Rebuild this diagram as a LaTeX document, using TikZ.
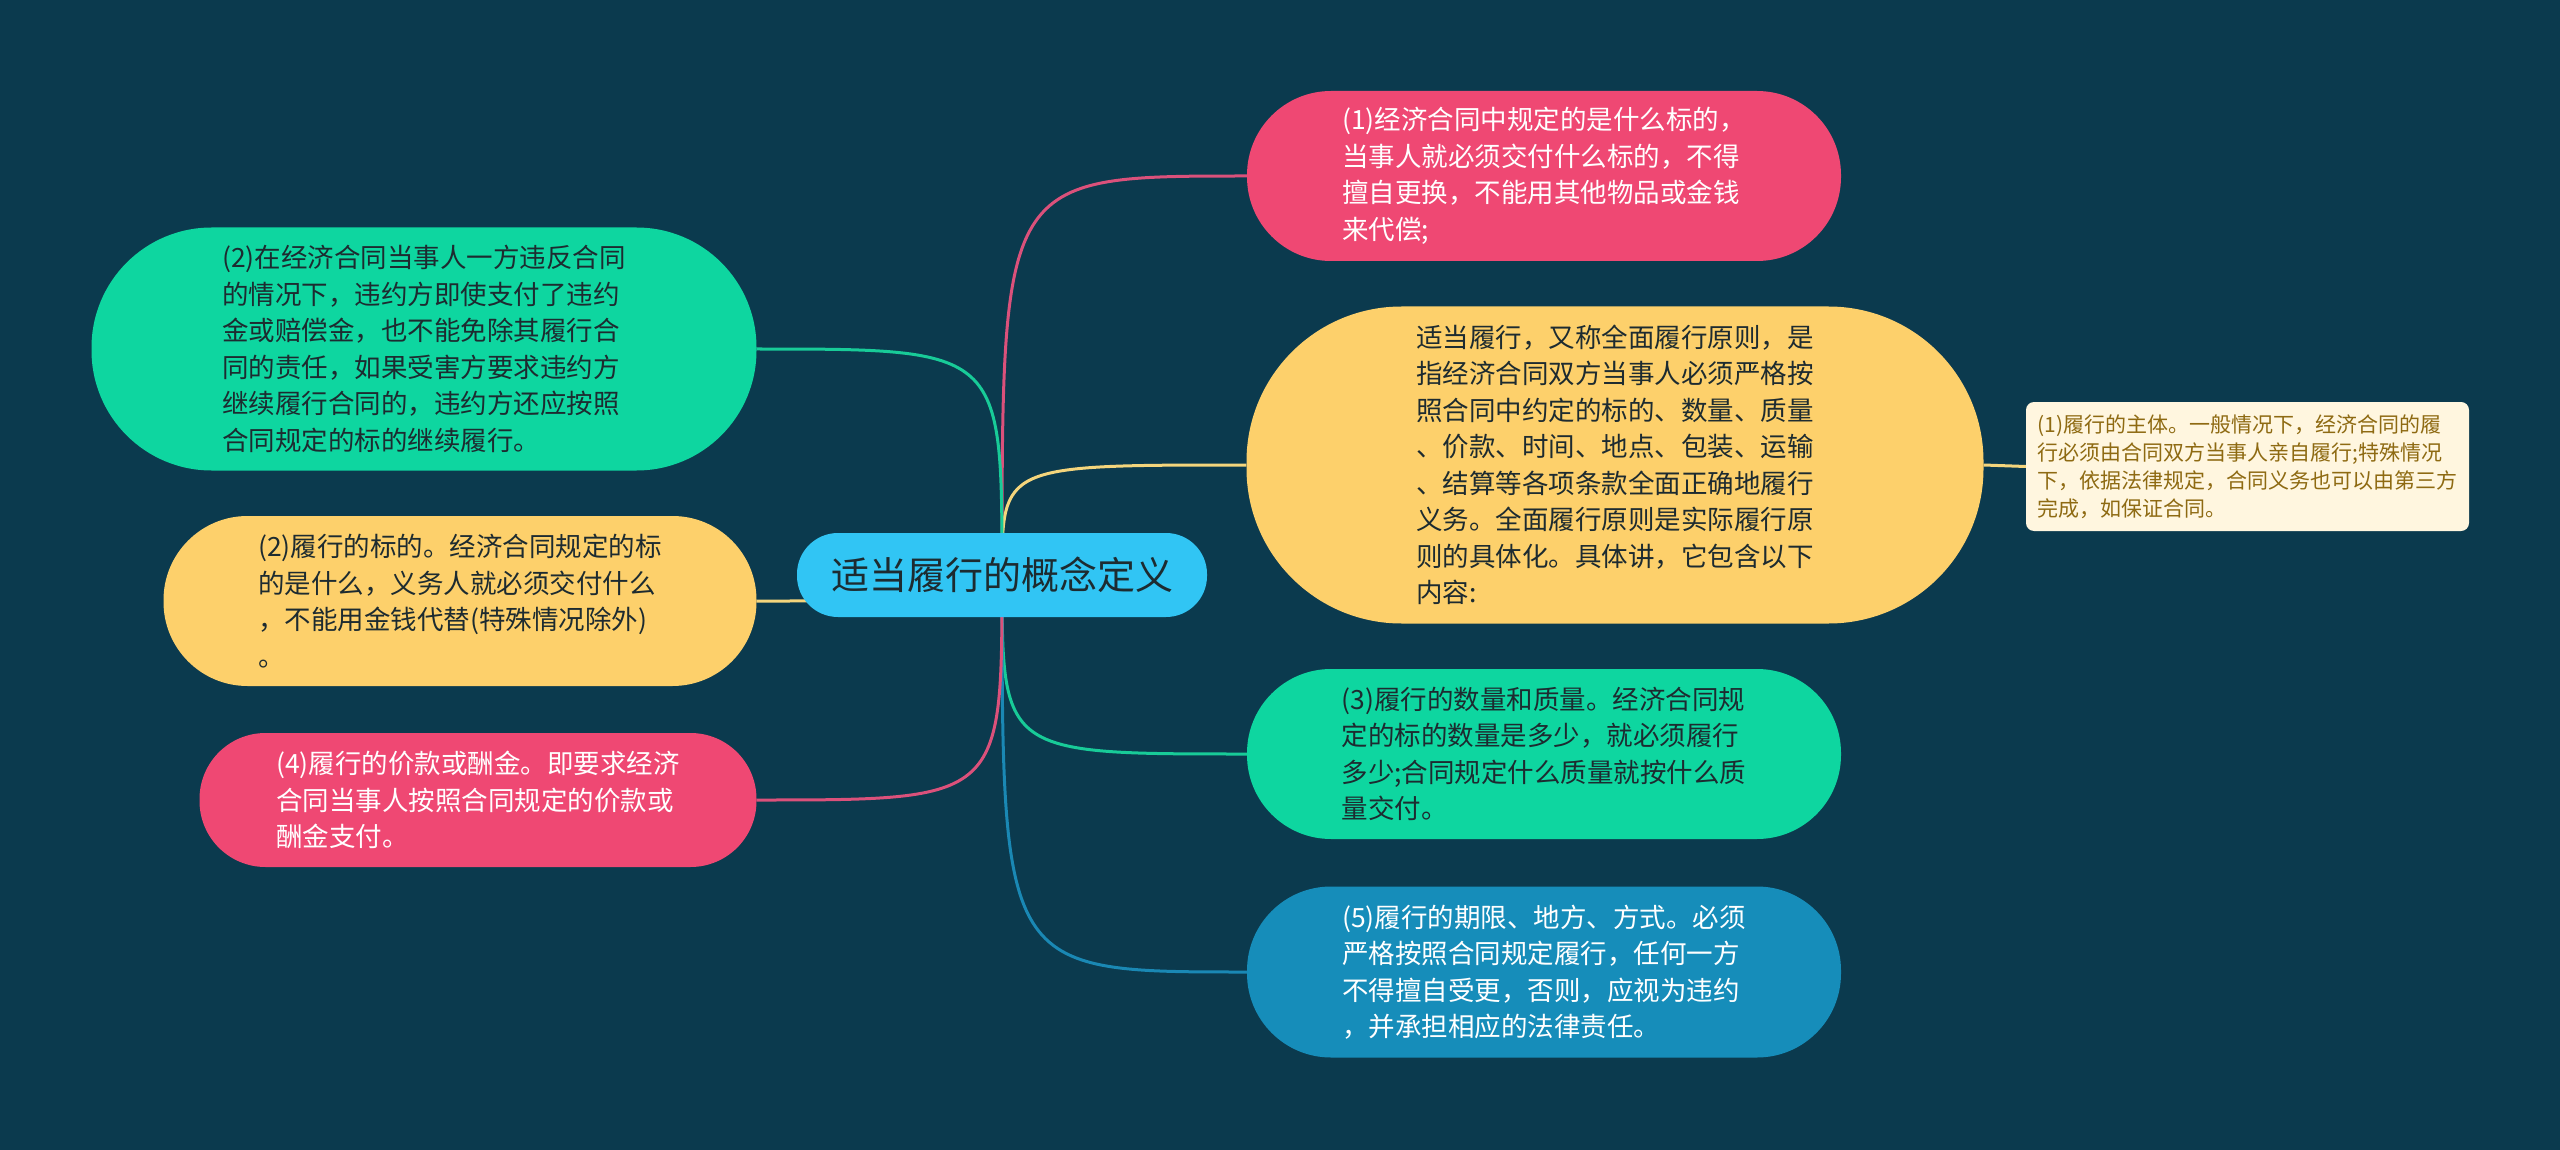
\documentclass[tikz,border=0pt]{standalone}
\usepackage{fontspec}
\setmainfont{Noto Sans CJK SC}
\usetikzlibrary{calc}
\definecolor{bgc}{HTML}{0B3A4E}
\definecolor{centc}{HTML}{31C5F4}
\definecolor{pinkc}{HTML}{EF4873}
\definecolor{yelc}{HTML}{FDD06B}
\definecolor{grnc}{HTML}{0ED6A0}
\definecolor{bluc}{HTML}{168DBA}
\definecolor{creamc}{HTML}{FFF6DF}
\definecolor{brownc}{HTML}{8E6A12}
\definecolor{darkc}{HTML}{1D2B30}
\definecolor{lpink}{HTML}{DB517B}
\definecolor{lgrn}{HTML}{18CB98}
\definecolor{lyel}{HTML}{F4D57C}
\definecolor{lblu}{HTML}{1A88B4}
\pgfdeclarelayer{bglayer}
\pgfdeclarelayer{linelayer}
\pgfsetlayers{bglayer,linelayer,main}
\tikzset{
  box/.style={inner sep=0pt, align=left, font=\fontsize{26.5}{36.5}\selectfont},
  frbox/.style={inner sep=0pt, align=left, font=\fontsize{21}{28}\selectfont},
  conn/.style={line width=3pt},
}
\begin{document}
\begin{tikzpicture}[x=1pt,y=-1pt]
\useasboundingbox (0,0) rectangle (2560,1150);
\begin{pgfonlayer}{bglayer}
\fill[bgc] (0,0) rectangle (2560,1150);
\end{pgfonlayer}

\node[inner sep=0pt, fill=centc, text=darkc, minimum width=410pt, minimum height=84pt, rounded corners=41pt, font=\fontsize{38}{46}\selectfont] (c) at (1002,575) {适当履行的概念定义};

\node[box, fill=pinkc, text=white, minimum width=594pt, minimum height=170pt, rounded corners=84pt] (n1) at (1544,176) {(1)经济合同中规定的是什么标的，\\当事人就必须交付什么标的，不得\\擅自更换，不能用其他物品或金钱\\来代偿;};

\node[box, fill=yelc, text=darkc, minimum width=737pt, minimum height=317pt, rounded corners=155pt] (n2) at (1615,465) {适当履行，又称全面履行原则，是\\指经济合同双方当事人必须严格按\\照合同中约定的标的、数量、质量\\、价款、时间、地点、包装、运输\\、结算等各项条款全面正确地履行\\义务。全面履行原则是实际履行原\\则的具体化。具体讲，它包含以下\\内容:};

\node[box, fill=grnc, text=darkc, minimum width=594pt, minimum height=170pt, rounded corners=84pt] (n3) at (1544,754) {(3)履行的数量和质量。经济合同规\\定的标的数量是多少，就必须履行\\多少;合同规定什么质量就按什么质\\量交付。};

\node[box, fill=bluc, text=white, minimum width=594pt, minimum height=171pt, rounded corners=84pt] (n4) at (1544,972) {(5)履行的期限、地方、方式。必须\\严格按照合同规定履行，任何一方\\不得擅自受更，否则，应视为违约\\，并承担相应的法律责任。};

\node[box, fill=grnc, text=darkc, minimum width=665pt, minimum height=243pt, rounded corners=120pt] (l1) at (424,349) {(2)在经济合同当事人一方违反合同\\的情况下，违约方即使支付了违约\\金或赔偿金，也不能免除其履行合\\同的责任，如果受害方要求违约方\\继续履行合同的，违约方还应按照\\合同规定的标的继续履行。};

\node[box, fill=yelc, text=darkc, minimum width=593pt, minimum height=170pt, rounded corners=84pt] (l2) at (460,601) {(2)履行的标的。经济合同规定的标\\的是什么，义务人就必须交付什么\\，不能用金钱代替(特殊情况除外)\\。};

\node[box, fill=pinkc, text=white, minimum width=557pt, minimum height=134pt, rounded corners=66pt] (l3) at (478,800) {(4)履行的价款或酬金。即要求经济\\合同当事人按照合同规定的价款或\\酬金支付。};

\node[frbox, fill=creamc, text=brownc, minimum width=443pt, minimum height=129pt, rounded corners=8pt] (fr) at (2247.5,466.5) {(1)履行的主体。一般情况下，经济合同的履\\行必须由合同双方当事人亲自履行;特殊情况\\下，依据法律规定，合同义务也可以由第三方\\完成，如保证合同。};

\begin{pgfonlayer}{linelayer}
\draw[conn, lpink] (c.center) .. controls (c.center |- n1.west) .. (n1.west);
\draw[conn, lyel] (c.center) .. controls (c.center |- n2.west) .. (n2.west);
\draw[conn, lgrn] (c.center) .. controls (c.center |- n3.west) .. (n3.west);
\draw[conn, lblu] (c.center) .. controls (c.center |- n4.west) .. (n4.west);
\draw[conn, lgrn] (c.center) .. controls (c.center |- l1.east) .. (l1.east);
\draw[conn, lyel] (c.center) .. controls (c.center |- l2.east) .. (l2.east);
\draw[conn, lpink] (c.center) .. controls (c.center |- l3.east) .. (l3.east);
\draw[conn, lyel] (n2.east) -- (fr.west);
\end{pgfonlayer}
\end{tikzpicture}
\end{document}
